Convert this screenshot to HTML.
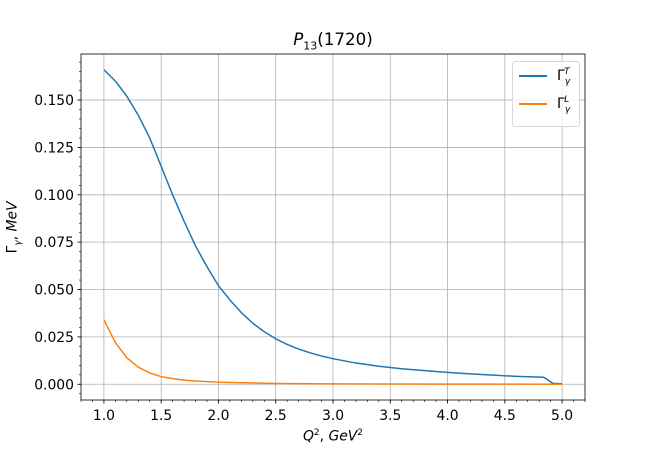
<!DOCTYPE html>
<html><head><meta charset="utf-8"><style>body{margin:0;background:#fff}svg text{font-family:"DejaVu Sans","Liberation Sans",sans-serif;fill:#000}</style></head>
<body>
<svg id="c" width="650" height="450" xmlns="http://www.w3.org/2000/svg"></svg>
<script>
const xT=[1.0,1.1,1.2,1.3,1.4,1.5,1.6,1.7,1.8,1.9,2.0,2.1,2.2,2.3,2.4,2.5,2.6,2.7,2.8,2.9,3.0,3.2,3.4,3.6,3.8,4.0,4.2,4.4,4.6,4.84,4.92,5.0];
const gammaT=[0.166,0.160,0.152,0.142,0.130,0.115,0.100,0.086,0.073,0.062,0.052,0.0445,0.0378,0.0322,0.0277,0.0240,0.0210,0.0186,0.0166,0.0149,0.0135,0.0112,0.0095,0.0082,0.0072,0.0063,0.0055,0.0048,0.0042,0.0037,0.0005,0.0003];
const xL=[1.0,1.1,1.2,1.3,1.4,1.5,1.6,1.7,1.8,2.0,2.5,3.0,4.0,5.0];
const gammaL=[0.034,0.022,0.014,0.009,0.006,0.004,0.003,0.0022,0.0017,0.0011,0.0004,0.0002,0.0001,0];
const xTicks=["1.0","1.5","2.0","2.5","3.0","3.5","4.0","4.5","5.0"];
const yTicks=["0.000","0.025","0.050","0.075","0.100","0.125","0.150"];
const L=81,R=585,T=54,B=400,x0=0.8,x1=5.2,y0=-0.0083,y1=0.1743;
const sx=v=>L+(v-x0)/(x1-x0)*(R-L), sy=v=>B-(v-y0)/(y1-y0)*(B-T);
const svg=document.getElementById('c');const NS='http://www.w3.org/2000/svg';
function mk(t,a,p){const e=document.createElementNS(NS,t);for(const k in a)e.setAttribute(k,a[k]);(p||svg).appendChild(e);return e;}
const grid=mk('g',{});


xTicks.forEach(s=>{const x=sx(+s);
mk('line',{x1:x,x2:x,y1:T,y2:B,stroke:'#b0b0b0','stroke-width':0.8},grid);
mk('line',{x1:x,x2:x,y1:B,y2:B+3.5,stroke:'#000','stroke-width':0.8});
const t=mk('text',{x:x,y:B+20,'text-anchor':'middle','font-size':13.9});t.textContent=s;

});
for(let v=0.8;v<=5.2001;v+=0.1){const x=sx(v);mk('line',{x1:x,x2:x,y1:B,y2:B+2,stroke:'#000','stroke-width':0.6});}
yTicks.forEach(s=>{const y=sy(+s);
mk('line',{x1:L,x2:R,y1:y,y2:y,stroke:'#b0b0b0','stroke-width':0.8},grid);
mk('line',{x1:L-3.5,x2:L,y1:y,y2:y,stroke:'#000','stroke-width':0.8});
const t=mk('text',{x:L-7,y:y+5,'text-anchor':'end','font-size':13.9});t.textContent=s;

});
for(let v=-0.005;v<=0.1743;v+=0.005){const y=sy(v);mk('line',{x1:L-2,x2:L,y1:y,y2:y,stroke:'#000','stroke-width':0.6});}
function line(xs,ys,c,n){const p=mk('polyline',{points:xs.map((x,i)=>sx(x)+','+sy(ys[i])).join(' '),fill:'none',stroke:c,'stroke-width':1.5,'stroke-linejoin':'round'});

}
line(xT,gammaT,'#1f77b4','series-gamma-t');
line(xL,gammaL,'#ff7f0e','series-gamma-l');
const fr=mk('rect',{x:L,y:T,width:R-L,height:B-T,fill:'none',stroke:'#000','stroke-width':0.8});


</script>
<div style="position:absolute;left:0;top:0;width:650px;height:450px;font-family:'DejaVu Sans','Liberation Sans',sans-serif;pointer-events:none">
<div style="position:absolute;left:81px;width:504px;top:29px;text-align:center;font-size:16.7px;white-space:nowrap"><i>P</i><sub style="font-size:11px">13</sub>(1720)</div>
<div style="position:absolute;left:81px;width:504px;top:428px;text-align:center;font-size:13.9px;white-space:nowrap"><i>Q</i><sup style="font-size:9px">2</sup>, <i>GeV</i><sup style="font-size:9px">2</sup></div>
<div style="position:absolute;left:-36px;top:218px;width:100px;text-align:center;font-size:13.9px;white-space:nowrap;transform:rotate(-90deg)">Γ<sub style="font-size:9px"><i>γ</i></sub>, <i>MeV</i></div>
<div style="position:absolute;left:512px;top:61px;width:66px;height:64px;border:1px solid #d8d8d8;border-radius:3px;background:rgba(255,255,255,0.8)">
<div style="position:absolute;left:6px;top:5px;font-size:13.9px;white-space:nowrap"><span style="display:inline-block;width:28px;height:2px;background:#1f77b4;vertical-align:middle"></span><span style="margin-left:10px">Γ<sub style="font-size:9px"><i>γ</i></sub><sup style="font-size:9px;margin-left:-6px"><i>T</i></sup></span></div>
<div style="position:absolute;left:6px;top:33px;font-size:13.9px;white-space:nowrap"><span style="display:inline-block;width:28px;height:2px;background:#ff7f0e;vertical-align:middle"></span><span style="margin-left:10px">Γ<sub style="font-size:9px"><i>γ</i></sub><sup style="font-size:9px;margin-left:-6px"><i>L</i></sup></span></div>
</div>
</div>
</body></html>
